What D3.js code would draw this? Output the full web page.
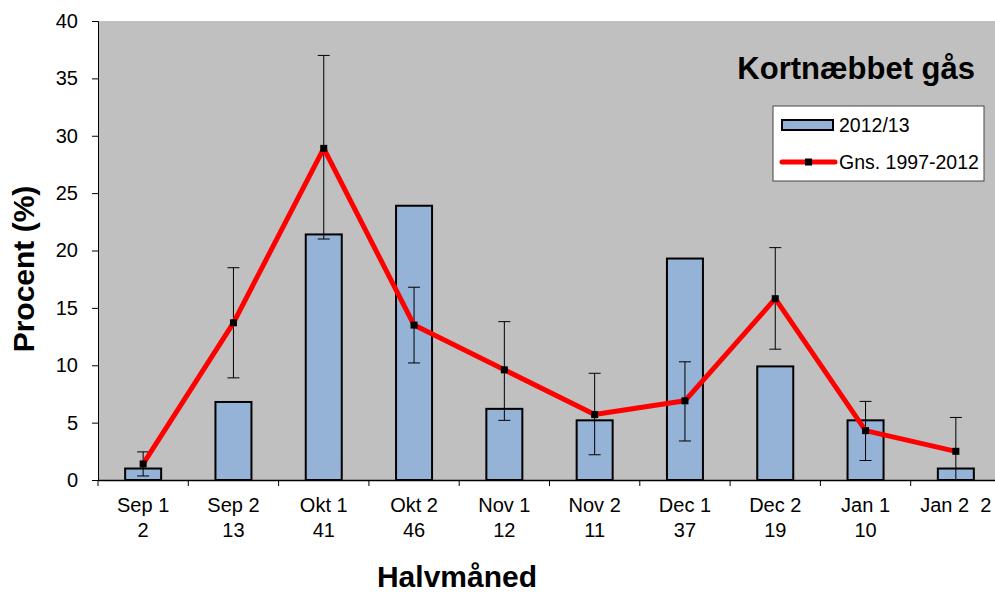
<!DOCTYPE html>
<html>
<head>
<meta charset="utf-8">
<script src="https://cdn.jsdelivr.net/npm/d3@7"></script>
<style>
  body { margin: 0; background: #fff; }
  svg { display: block; font-family: "Liberation Sans", Arial, sans-serif; }
</style>
</head>
<body>
<svg id="chart" width="995" height="592"></svg>
<script>
// data
const categories = ["Sep 1", "Sep 2", "Okt 1", "Okt 2", "Nov 1", "Nov 2", "Dec 1", "Dec 2", "Jan 1", "Jan 2"];
const counts = ["2", "13", "41", "46", "12", "11", "37", "19", "10", "2"];
const season = [1.0, 6.8, 21.4, 23.9, 6.2, 5.2, 19.3, 9.9, 5.2, 1.0];
const average = [1.4, 13.7, 28.9, 13.5, 9.6, 5.7, 6.9, 15.8, 4.3, 2.5];
const errLow = [0.35, 8.9, 21.0, 10.2, 5.2, 2.2, 3.4, 11.4, 1.7, 0];
const errHigh = [2.45, 18.5, 37.0, 16.8, 13.8, 9.3, 10.3, 20.25, 6.85, 5.45];
const yTicks = [0, 5, 10, 15, 20, 25, 30, 35, 40];

const svg = d3.select("#chart");
const margin = { top: 21, left: 98 };
const plotW = 903, plotH = 459;

const x = d3.scaleBand().domain(categories).range([margin.left, margin.left + plotW]);
const y = d3.scaleLinear().domain([0, 40]).range([margin.top + plotH, margin.top]);

// plot background
svg.append("rect")
  .attr("x", margin.left).attr("y", margin.top)
  .attr("width", plotW).attr("height", plotH)
  .attr("fill", "#c0c0c0");

// bars
const barW = 36;
svg.selectAll("rect.bar")
  .data(season)
  .enter().append("rect")
  .attr("class", "bar")
  .attr("x", (d, i) => x(categories[i]) + x.bandwidth() / 2 - barW / 2)
  .attr("y", d => y(d))
  .attr("width", barW)
  .attr("height", d => y(0) - y(d))
  .attr("fill", "#95b3d7")
  .attr("stroke", "#000")
  .attr("stroke-width", 2);

const cx = i => x(categories[i]) + x.bandwidth() / 2;

// error bars
const eb = svg.append("g").attr("stroke", "#000").attr("stroke-width", 1);
average.forEach((d, i) => {
  eb.append("line")
    .attr("x1", cx(i)).attr("x2", cx(i))
    .attr("y1", y(errHigh[i])).attr("y2", y(errLow[i]));
  eb.append("line")
    .attr("x1", cx(i) - 6).attr("x2", cx(i) + 6)
    .attr("y1", y(errHigh[i])).attr("y2", y(errHigh[i]));
  if (errLow[i] > 0) {
    eb.append("line")
      .attr("x1", cx(i) - 6).attr("x2", cx(i) + 6)
      .attr("y1", y(errLow[i])).attr("y2", y(errLow[i]));
  }
});

// average line
const line = d3.line()
  .x((d, i) => cx(i))
  .y(d => y(d));

svg.append("path")
  .datum(average)
  .attr("fill", "none")
  .attr("stroke", "#ff0000")
  .attr("stroke-width", 5)
  .attr("stroke-linejoin", "round")
  .attr("d", line);

svg.selectAll("rect.marker")
  .data(average)
  .enter().append("rect")
  .attr("class", "marker")
  .attr("x", (d, i) => cx(i) - 3.5)
  .attr("y", d => y(d) - 3.5)
  .attr("width", 7).attr("height", 7)
  .attr("fill", "#000");

// y axis
const yAxis = svg.append("g")
  .attr("transform", `translate(${margin.left},0)`)
  .call(d3.axisLeft(y).tickValues(yTicks).tickSize(6).tickPadding(14));
yAxis.select(".domain").attr("stroke", "#000").attr("stroke-width", 1);
yAxis.selectAll("line").attr("stroke", "#000");
yAxis.selectAll("text").attr("font-size", 20).attr("fill", "#000")
  .attr("font-family", "Liberation Sans, Arial, sans-serif");

// x axis
const xAxis = svg.append("g")
  .attr("transform", `translate(0,${y(0)})`)
  .call(d3.axisBottom(x).tickSize(0).tickFormat(""));
xAxis.select(".domain").attr("stroke", "#000").attr("stroke-width", 1.5);

// boundary ticks between categories
const bounds = categories.map(c => x(c)).concat([margin.left + plotW]);
xAxis.selectAll("line.bound")
  .data(bounds)
  .enter().append("line")
  .attr("class", "bound")
  .attr("x1", d => d).attr("x2", d => d)
  .attr("y1", 0).attr("y2", 6)
  .attr("stroke", "#000");

// category labels (two lines; the last one sits on a single line in the original)
categories.forEach((c, i) => {
  const t = svg.append("text")
    .attr("x", cx(i))
    .attr("text-anchor", "middle")
    .attr("font-size", 20)
    .attr("fill", "#000")
    .style("white-space", "pre");
  if (i === categories.length - 1) {
    t.attr("y", 512).text(c + "  " + counts[i]);
  } else {
    t.append("tspan").attr("x", cx(i)).attr("y", 512).text(c);
    t.append("tspan").attr("x", cx(i)).attr("y", 537).text(counts[i]);
  }
});

// axis titles
svg.append("text")
  .attr("transform", `translate(34,269) rotate(-90)`)
  .attr("text-anchor", "middle")
  .attr("font-size", 30)
  .attr("font-weight", "bold")
  .text("Procent (%)");

svg.append("text")
  .attr("x", 457)
  .attr("y", 587)
  .attr("text-anchor", "middle")
  .attr("font-size", 30)
  .attr("font-weight", "bold")
  .text("Halvmåned");

// chart title
svg.append("text")
  .attr("x", 975)
  .attr("y", 79)
  .attr("text-anchor", "end")
  .attr("font-size", 31)
  .attr("font-weight", "bold")
  .text("Kortnæbbet gås");

// legend
const lg = svg.append("g");
lg.append("rect")
  .attr("x", 773).attr("y", 106)
  .attr("width", 211).attr("height", 75)
  .attr("fill", "#fff")
  .attr("stroke", "#444").attr("stroke-width", 1);
lg.append("rect")
  .attr("x", 782).attr("y", 120)
  .attr("width", 51).attr("height", 10)
  .attr("fill", "#95b3d7")
  .attr("stroke", "#000").attr("stroke-width", 2);
lg.append("text")
  .attr("x", 839).attr("y", 132)
  .attr("font-size", 19.5)
  .text("2012/13");
lg.append("line")
  .attr("x1", 782).attr("x2", 835)
  .attr("y1", 162).attr("y2", 162)
  .attr("stroke", "#ff0000").attr("stroke-width", 5)
  .attr("stroke-linecap", "round");
lg.append("rect")
  .attr("x", 805).attr("y", 158.5)
  .attr("width", 7).attr("height", 7)
  .attr("fill", "#000");
lg.append("text")
  .attr("x", 839).attr("y", 169)
  .attr("font-size", 19.5)
  .text("Gns. 1997-2012");
</script>
</body>
</html>
